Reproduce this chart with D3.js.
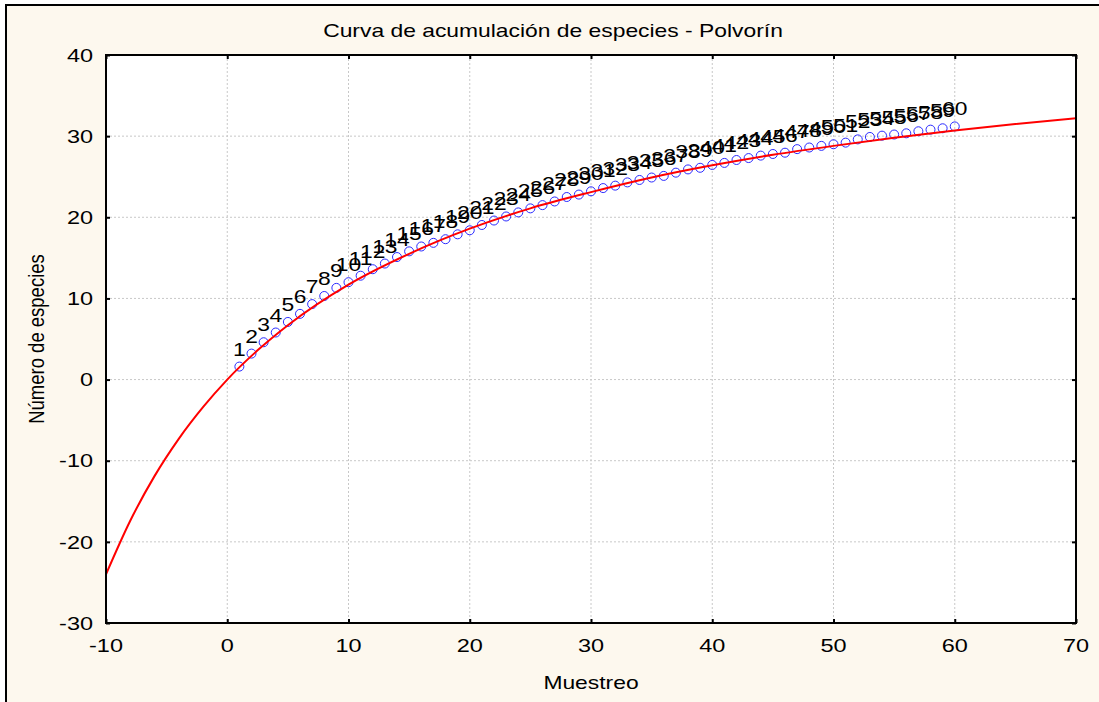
<!DOCTYPE html>
<html>
<head>
<meta charset="utf-8">
<script src="https://cdn.jsdelivr.net/npm/d3@7"></script>
<style>
  html, body { margin: 0; padding: 0; background: #fff; }
  svg text { font-family: "Liberation Sans", Arial, sans-serif; fill: #000; }
</style>
</head>
<body>
<div id="chart"></div>
<script>
'use strict';

const sampleX = [1, 2, 3, 4, 5, 6, 7, 8, 9, 10, 11, 12, 13, 14, 15, 16, 17, 18, 19, 20,
    21, 22, 23, 24, 25, 26, 27, 28, 29, 30, 31, 32, 33, 34, 35, 36, 37, 38, 39, 40,
    41, 42, 43, 44, 45, 46, 47, 48, 49, 50, 51, 52, 53, 54, 55, 56, 57, 58, 59, 60];
const speciesY = [1.6, 3.2, 4.6, 5.8, 7.1, 8.1, 9.3, 10.3, 11.3, 12.0,
    12.8, 13.6, 14.3, 15.1, 15.8, 16.4, 16.85, 17.3, 17.9, 18.4,
    19.05, 19.6, 20.1, 20.6, 21.1, 21.5, 21.95, 22.5, 22.8, 23.2,
    23.6, 23.9, 24.3, 24.6, 24.9, 25.1, 25.5, 25.9, 26.1, 26.45,
    26.7, 27.06, 27.3, 27.6, 27.8, 27.96, 28.4, 28.6, 28.8, 29.0,
    29.2, 29.6, 29.9, 30.06, 30.2, 30.35, 30.6, 30.8, 30.97, 31.2];

// fitted curve
const fitX = [-10, -8, -6, -4, -2, 0, 2.5, 5, 10, 15, 20, 25, 30, 35, 40, 45, 50, 55, 60, 65, 70];
const fitY = [-24.0, -17.4, -11.9, -7.3, -3.4, 0, 3.6, 6.7, 11.7, 15.5, 18.6, 21.1, 23.1, 24.9,
    26.4, 27.7, 28.8, 29.8, 30.7, 31.5, 32.2];

const xTicks = [-10, 0, 10, 20, 30, 40, 50, 60, 70];
const yTicks = [-30, -20, -10, 0, 10, 20, 30, 40];

const titleText = 'Curva de acumulación de especies - Polvorín';
const xLabel = 'Muestreo';
const yLabel = 'Número de especies';

const W = 1099, H = 702;
const plot = { left: 106, top: 55, right: 1076, bottom: 623 };
// the source picture is stretched sideways, so text glyphs are wider than tall
const STRETCH = 1.27;

const svg = d3.select('#chart')
    .append('svg')
    .attr('width', W)
    .attr('height', H);

// place a text at (tx, ty) with the sideways stretch
function stretched(sel, tx, ty) {
    return sel.attr('x', 0).attr('y', 0)
        .attr('transform', (d, i) => `translate(${tx(d, i)},${ty(d, i)}) scale(${STRETCH},1)`);
}

// outer frame, runs off the right and bottom edge
svg.append('rect')
    .attr('x', 6).attr('y', 5)
    .attr('width', W + 20).attr('height', H + 20)
    .attr('fill', '#fdf8ee')
    .attr('stroke', '#000')
    .attr('stroke-width', 2);

const x = d3.scaleLinear().domain([-10, 70]).range([plot.left, plot.right]);
const y = d3.scaleLinear().domain([-30, 40]).range([plot.bottom, plot.top]);

svg.append('rect')
    .attr('x', plot.left).attr('y', plot.top)
    .attr('width', plot.right - plot.left)
    .attr('height', plot.bottom - plot.top)
    .attr('fill', '#fff');

//#region GRID
const grid = svg.append('g').attr('stroke', '#c8c8c8').attr('stroke-dasharray', '2,2');
grid.selectAll('.gx')
    .data(xTicks.slice(1, -1))
    .enter().append('line')
    .attr('x1', d => x(d)).attr('x2', d => x(d))
    .attr('y1', plot.top).attr('y2', plot.bottom);
grid.selectAll('.gy')
    .data(yTicks.slice(1, -1))
    .enter().append('line')
    .attr('y1', d => y(d)).attr('y2', d => y(d))
    .attr('x1', plot.left).attr('x2', plot.right);
//#endregion

//#region AXES
// ticks point inward on all four sides
const tickLen = 4;
const axisBottom = svg.append('g')
    .attr('transform', `translate(0,${plot.bottom})`)
    .call(d3.axisTop(x).tickValues(xTicks).tickSize(tickLen).tickFormat(''));
const axisTop = svg.append('g')
    .attr('transform', `translate(0,${plot.top})`)
    .call(d3.axisBottom(x).tickValues(xTicks).tickSize(tickLen).tickFormat(''));
const axisLeft = svg.append('g')
    .attr('transform', `translate(${plot.left},0)`)
    .call(d3.axisRight(y).tickValues(yTicks).tickSize(tickLen).tickFormat(''));
const axisRight = svg.append('g')
    .attr('transform', `translate(${plot.right},0)`)
    .call(d3.axisLeft(y).tickValues(yTicks).tickSize(tickLen).tickFormat(''));
[axisBottom, axisTop, axisLeft, axisRight].forEach(g => {
    g.select('.domain').remove();
    g.selectAll('line').attr('stroke', '#000').attr('stroke-width', 2);
});

svg.selectAll('.xt')
    .data(xTicks)
    .enter().append('text')
    .call(stretched, d => x(d), () => plot.bottom + 29)
    .attr('text-anchor', 'middle')
    .style('font-size', '18.5px')
    .text(d => d);

svg.selectAll('.yt')
    .data(yTicks)
    .enter().append('text')
    .call(stretched, () => plot.left - 13, d => y(d))
    .attr('dy', '0.36em')
    .attr('text-anchor', 'end')
    .style('font-size', '18.5px')
    .text(d => d);
//#endregion

//#region MARKS
svg.append('clipPath').attr('id', 'plot-clip')
    .append('rect')
    .attr('x', plot.left).attr('y', plot.top)
    .attr('width', plot.right - plot.left)
    .attr('height', plot.bottom - plot.top);

svg.append('g')
    .selectAll('circle')
    .data(sampleX)
    .enter().append('circle')
    .attr('cx', d => x(d))
    .attr('cy', (d, i) => y(speciesY[i]))
    .attr('r', 4.5)
    .attr('fill', 'none')
    .attr('stroke', '#2a2aff')
    .attr('stroke-width', 1);

const line = d3.line()
    .x(d => x(d[0]))
    .y(d => y(d[1]))
    .curve(d3.curveMonotoneX);

svg.append('path')
    .datum(fitX.map((d, i) => [d, fitY[i]]))
    .attr('clip-path', 'url(#plot-clip)')
    .attr('d', line)
    .attr('fill', 'none')
    .attr('stroke', '#ff0000')
    .attr('stroke-width', 2);

svg.append('g')
    .selectAll('text')
    .data(sampleX)
    .enter().append('text')
    .call(stretched, d => x(d), (d, i) => y(speciesY[i]) - 11)
    .attr('text-anchor', 'middle')
    .style('font-size', '18px')
    .text(d => d);
//#endregion

// frame drawn last so it sits over the marks
svg.append('rect')
    .attr('x', plot.left).attr('y', plot.top)
    .attr('width', plot.right - plot.left)
    .attr('height', plot.bottom - plot.top)
    .attr('fill', 'none')
    .attr('stroke', '#000')
    .attr('stroke-width', 2);

//#region TITLES
svg.append('text')
    .call(stretched, () => 553, () => 37)
    .attr('text-anchor', 'middle')
    .style('font-size', '18px')
    .text(titleText);

svg.append('text')
    .call(stretched, () => x(30), () => 689)
    .attr('text-anchor', 'middle')
    .style('font-size', '18px')
    .text(xLabel);

// rotated, so the stretch falls on the glyph height
svg.append('text')
    .attr('transform', `translate(44,${(plot.top + plot.bottom) / 2}) rotate(-90) scale(1,1.15)`)
    .attr('text-anchor', 'middle')
    .style('font-size', '18.5px')
    .text(yLabel);
//#endregion
</script>
</body>
</html>
